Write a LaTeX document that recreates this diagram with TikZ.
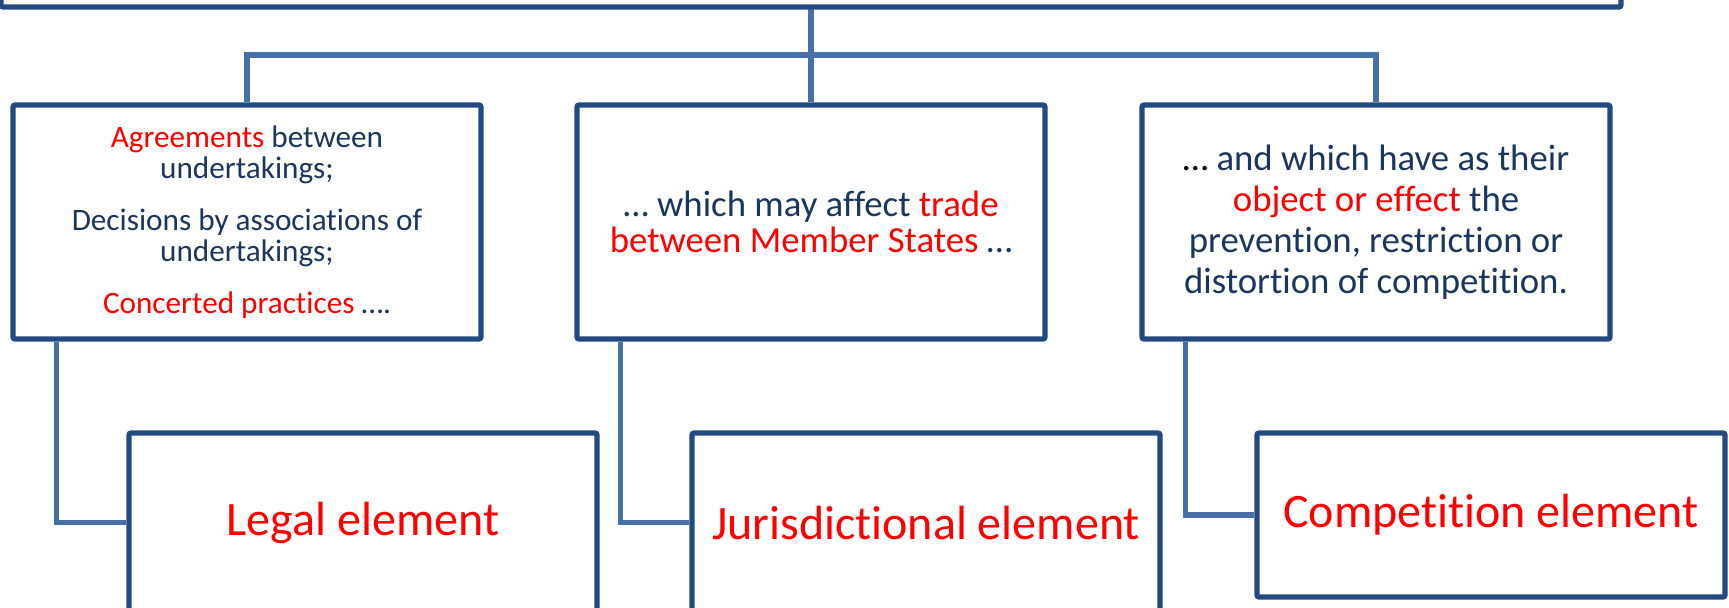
\documentclass[tikz,border=0pt]{standalone}
\usepackage{fontspec}
\setmainfont{Carlito}[Ligatures=NoCommon]
\definecolor{boxblue}{HTML}{234A80}
\definecolor{linkblue}{HTML}{4670A6}
\definecolor{navy}{HTML}{1B365E}
\definecolor{hred}{HTML}{FF0000}
\begin{document}
\begin{tikzpicture}[x=0.5pt,y=-0.5pt,
  box/.style={draw=boxblue, line width=2.6pt, rounded corners=1pt, fill=white,
              inner sep=0pt, align=center, text=navy},
  upper/.style={box, minimum width=234pt, minimum height=117pt},
  lower/.style={box, minimum width=234pt, text=hred, font=\fontsize{24}{29}\selectfont},
  link/.style={draw=linkblue, line width=2.7pt}]
\useasboundingbox (0,0) rectangle (1729,607);

% connectors
\coordinate (j) at (811,55);
\coordinate (t) at (811,7);
\draw[link] (t) -- (j);

% top box (mostly outside the picture)
\node[box, minimum width=810pt, minimum height=33.5pt] (top) at (811,-26.5) {};

% upper boxes
\node[upper, font=\fontsize{15.6}{15.5}\selectfont] (ul) at (247,222)
  {\textcolor{hred}{Agreements} between\\undertakings;\\[10.5pt]
   Decisions by associations of\\undertakings;\\[10.5pt]
   \textcolor{hred}{Concerted practices} ….};
\node[upper, font=\fontsize{18.4}{18}\selectfont] (um) at (811,222)
  {… which may affect \textcolor{hred}{trade}\\
   \textcolor{hred}{between Member States} …};
\node[upper, font=\fontsize{18.4}{20.5}\selectfont] (ur) at (1376,222)
  {\textcolor{black}{…} and which have as their\\
   \textcolor{hred}{object or effect} the\\
   prevention, restriction or\\
   distortion of competition.};

% lower boxes
\node[lower, minimum height=89.5pt] (ll) at (363,522.5) {Legal element};
\node[lower, minimum height=89.5pt] (lm) at (926,522.5) {Jurisdictional element};
\node[lower, minimum height=82pt] (lr) at (1491,515) {Competition element};

% tree connectors
\draw[link] (ul.north) |- (j) -| (ur.north);
\draw[link] (j) -- (um.north);
\draw[link] ([xshift=23pt]ul.south west) |- (ll.west);
\draw[link] ([xshift=23pt]um.south west) |- (lm.west);
\draw[link] ([xshift=23pt]ur.south west) |- (lr.west);
\end{tikzpicture}
\end{document}
